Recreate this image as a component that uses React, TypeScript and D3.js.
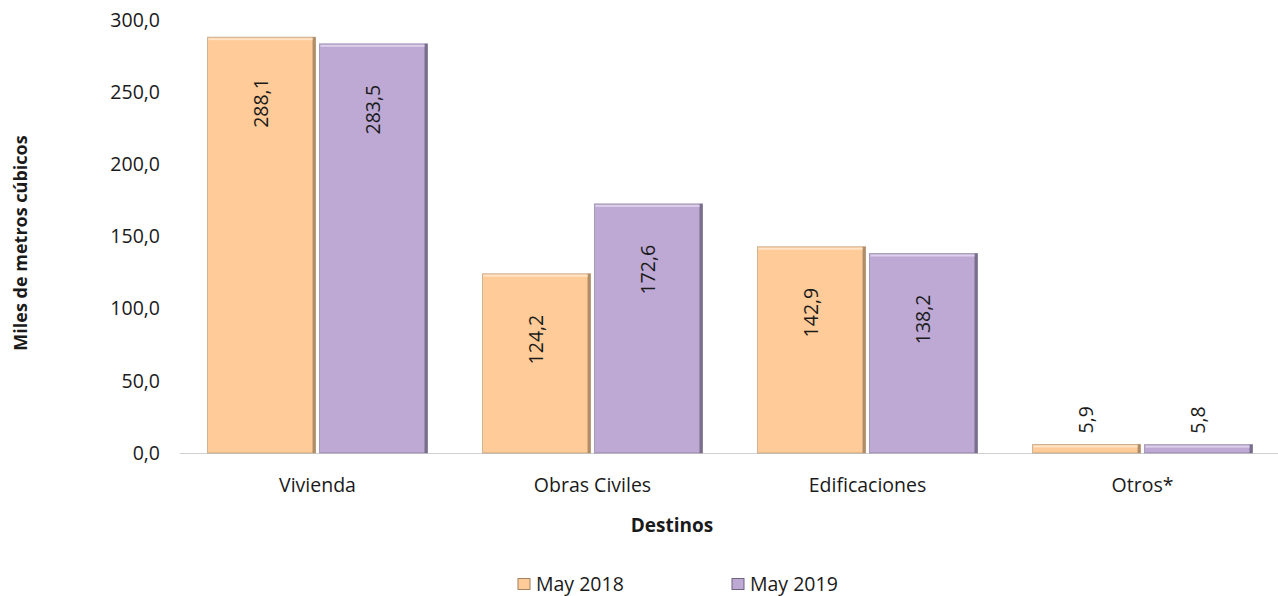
import React from 'react';
import * as d3 from 'd3';

const categories = ['Vivienda', 'Obras Civiles', 'Edificaciones', 'Otros*'];
const seriesNames = ['May 2018', 'May 2019'];
const may2018 = [288.1, 124.2, 142.9, 5.9];
const may2019 = [283.5, 172.6, 138.2, 5.8];
const yTicks = [0, 50, 100, 150, 200, 250, 300];

const fills = ['#FFCB98', '#BDA9D4'];
const edges = ['#A0825F', '#6E6480'];
const highlights = ['#FFE3C6', '#DCD0EA'];

const width = 1278;
const height = 596;
const left = 180;
const right = 1280;
const top = 20;
const bottom = 453;
const font = "'Open Sans', 'Noto Sans', sans-serif";
const fs = 19.5;

const fmt = (v: number) => d3.format('.1f')(v).replace('.', ',');

export default function App() {
  const x = d3.scaleBand<string>().domain(categories).range([left, right]).paddingInner(0.2).paddingOuter(0.1);
  const x1 = d3.scaleBand<string>().domain(seriesNames).range([0, x.bandwidth()]).paddingInner(0.035);
  const y = d3.scaleLinear().domain([0, 300]).range([bottom, top]);
  const series = [may2018, may2019];

  return (
    <svg width={width} height={height} style={{ position: 'absolute', left: 0, top: 0 }} fontFamily={font}>
      <rect width={width} height={height} fill="#fff" />
      {yTicks.map(t => (
        <text key={t} x={160} y={y(t)} dy="0.35em" textAnchor="end" fontSize={fs} fill="#1a1a1a">{fmt(t)}</text>
      ))}
      <line x1={left} x2={width} y1={bottom + 0.5} y2={bottom + 0.5} stroke="#d0d0d0" />
      {categories.map((c, i) => (
        <g key={c}>
          {series.map((s, j) => {
            const bx = (x(c) ?? 0) + (x1(seriesNames[j]) ?? 0);
            const bw = x1.bandwidth();
            const by = y(s[i]);
            const bh = bottom - by;
            const inside = bh > 60;
            const cx = bx + bw / 2;
            return (
              <g key={j}>
                <rect x={bx} y={by} width={bw} height={bh} fill={fills[j]} stroke={edges[j]} strokeOpacity={0.5} />
                <rect x={bx + bw - 3} y={by} width={3} height={bh} fill={edges[j]} opacity={0.85} />
                <rect x={bx + 1} y={by + 1} width={bw - 4} height={Math.min(2, bh - 1)} fill={highlights[j]} />
                <text
                  transform={`translate(${cx},${inside ? by + 41 : by - 11}) rotate(-90)`}
                  textAnchor={inside ? 'end' : 'start'}
                  dy="0.35em"
                  fontSize={fs}
                  fill="#1a1a1a"
                >{fmt(s[i])}</text>
              </g>
            );
          })}
          <text x={(x(c) ?? 0) + x.bandwidth() / 2} y={492} textAnchor="middle" fontSize={fs} fill="#1a1a1a">{c}</text>
        </g>
      ))}
      <text x={672} y={532} textAnchor="middle" fontSize={19} fontWeight="bold" fill="#1a1a1a">Destinos</text>
      <text transform={`translate(27,243) rotate(-90)`} textAnchor="middle" fontSize={18} fontWeight="bold" fill="#1a1a1a">Miles de metros cúbicos</text>
      {seriesNames.map((n, j) => {
        const lx = j === 0 ? 518 : 732;
        return (
          <g key={n}>
            <rect x={lx} y={578.5} width={12} height={11} fill={fills[j]} stroke={edges[j]} strokeWidth={1} />
            <text x={lx + 18} y={591} fontSize={fs} fill="#1a1a1a">{n}</text>
          </g>
        );
      })}
    </svg>
  );
}
